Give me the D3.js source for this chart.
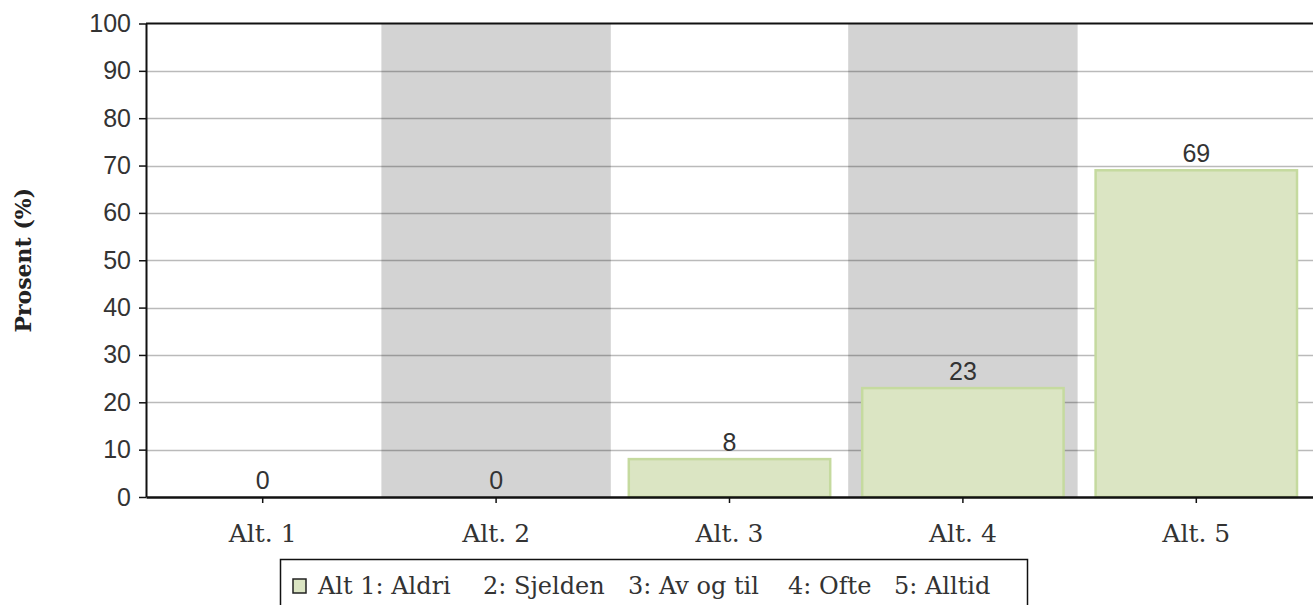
<!DOCTYPE html>
<html>
<head>
<meta charset="utf-8">
<script src="https://cdn.jsdelivr.net/npm/d3@7"></script>
<style>
  body{margin:0;background:#fff;}
  svg{display:block;}
</style>
</head>
<body>
<script>
const categories=["Alt. 1","Alt. 2","Alt. 3","Alt. 4","Alt. 5"];
const values=[0,0,8,23,69];
const yTicks=[0,10,20,30,40,50,60,70,80,90,100];
const legendItems=["Alt 1: Aldri","2: Sjelden","3: Av og til","4: Ofte","5: Alltid"];

const w=1313;
const h=605;
const margin={top:23.5,right:0,bottom:108,left:146};

const svg=d3.select("body").append("svg").attr("width",w).attr("height",h);

const xScale=d3.scaleBand().domain(categories).range([margin.left,w-margin.right]);
const yScale=d3.scaleLinear().domain([0,100]).range([h-margin.bottom,margin.top]);

// alternating gray bands
svg.selectAll("rect.band")
  .data(categories.filter((c,i)=>i%2===1))
  .enter()
  .append("rect")
  .attr("class","band")
  .attr("x",d=>xScale(d)+2)
  .attr("y",yScale(100))
  .attr("width",xScale.bandwidth()-4)
  .attr("height",yScale(0)-yScale(100))
  .attr("fill","#d3d3d3");

// gridlines
svg.selectAll("line.grid")
  .data(yTicks.filter(t=>t>0&&t<100))
  .enter()
  .append("line")
  .attr("x1",margin.left)
  .attr("x2",w)
  .attr("y1",d=>Math.round(yScale(d))+0.5)
  .attr("y2",d=>Math.round(yScale(d))+0.5)
  .attr("stroke","rgba(0,0,0,0.27)")
  .attr("stroke-width",1.5);

// bars
const pad=16;
svg.selectAll("rect.bar")
  .data(values)
  .enter()
  .append("rect")
  .attr("class","bar")
  .attr("x",(d,i)=>xScale(categories[i])+pad)
  .attr("y",d=>yScale(d))
  .attr("width",xScale.bandwidth()-2*pad)
  .attr("height",d=>yScale(0)-yScale(d))
  .attr("fill","#dbe5c3")
  .attr("stroke","#c5da9f")
  .attr("stroke-width",d=>d>0?2.5:0);

// value labels
svg.selectAll("text.val")
  .data(values)
  .enter()
  .append("text")
  .attr("class","val")
  .attr("x",(d,i)=>xScale(categories[i])+xScale.bandwidth()/2)
  .attr("y",d=>yScale(d)-8)
  .attr("text-anchor","middle")
  .style("font-family","'Liberation Sans'")
  .style("font-size","25px")
  .attr("fill","#333")
  .text(d=>d);

// top border
svg.append("line")
  .attr("x1",margin.left).attr("x2",w)
  .attr("y1",yScale(100)).attr("y2",yScale(100))
  .attr("stroke","#111").attr("stroke-width",2);

// y axis
const yAxis=d3.axisLeft(yScale).tickValues(yTicks).tickSize(7).tickSizeOuter(0);
const gy=svg.append("g")
  .attr("transform",`translate(${margin.left},0)`)
  .call(yAxis);
gy.select(".domain").attr("stroke","#111").attr("stroke-width",2);
gy.selectAll(".tick line").attr("stroke","#111").attr("stroke-width",1.5);
gy.selectAll(".tick text")
  .attr("x",-15)
  .style("font-family","'Liberation Sans'")
  .style("font-size","25px")
  .attr("fill","#333");

// x axis
const xAxis=d3.axisBottom(xScale).tickSize(6).tickSizeOuter(0);
const gx=svg.append("g")
  .attr("transform",`translate(0,${yScale(0)})`)
  .call(xAxis);
gx.select(".domain").attr("stroke","#111").attr("stroke-width",2.5);
gx.selectAll(".tick line").attr("stroke","#111").attr("stroke-width",1.5);
gx.selectAll(".tick text")
  .attr("y",45)
  .attr("dy",0)
  .style("font-family","'DejaVu Serif'")
  .style("font-size","25px")
  .attr("fill","#333");

// y title
svg.append("text")
  .attr("transform",`translate(31,${(yScale(0)+yScale(100))/2}) rotate(-90)`)
  .attr("text-anchor","middle")
  .style("font-family","'DejaVu Serif'")
  .style("font-weight","bold")
  .style("font-size","22px")
  .attr("fill","#222")
  .text("Prosent (%)");

// legend
const legendX=[38,203,348,508,614];
const legend=svg.append("g").attr("transform","translate(280,559)");
legend.append("rect")
  .attr("x",0.5).attr("y",0.5)
  .attr("width",747).attr("height",60)
  .attr("fill","#fff").attr("stroke","#111").attr("stroke-width",1.5);
legend.append("rect")
  .attr("x",13).attr("y",20)
  .attr("width",13).attr("height",14)
  .attr("fill","#dbe5c3").attr("stroke","#222").attr("stroke-width",1.5);
legend.selectAll("text.item")
  .data(legendItems)
  .enter()
  .append("text")
  .attr("class","item")
  .attr("x",(d,i)=>legendX[i])
  .attr("y",35)
  .style("font-family","'DejaVu Serif'")
  .style("font-size","24px")
  .attr("fill","#333")
  .text(d=>d);
</script>
</body>
</html>
